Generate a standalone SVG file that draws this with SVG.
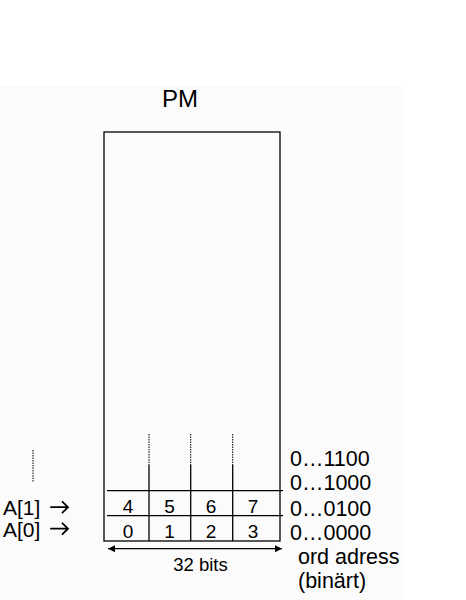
<svg xmlns="http://www.w3.org/2000/svg" width="466" height="600" viewBox="0 0 466 600">
<defs>
<style>
text{font-family:"Liberation Sans",Arial,sans-serif;fill:#000}
.ln{stroke:#000;stroke-width:1.3;fill:none}
.dot{stroke:#000;stroke-width:1;stroke-dasharray:1.5 1;fill:none}
.ptr{stroke:#000;stroke-width:1.8;fill:none;stroke-linecap:round;stroke-linejoin:miter}
.lbl{font-size:21px}
.addr{font-size:21.5px}
.cell{font-size:19px;text-anchor:middle}
</style>
<marker id="ah" viewBox="0 0 10 10" refX="10" refY="5" markerWidth="9" markerHeight="7" markerUnits="userSpaceOnUse" orient="auto-start-reverse">
<path d="M0,0 L10,5 L0,10 z" fill="#000"/>
</marker>
</defs>
<rect x="0" y="0" width="466" height="600" fill="#fff"/>
<rect x="0" y="86" width="404" height="514" fill="#fbfbfb"/>
<text x="180" y="106.5" font-size="24" text-anchor="middle">PM</text>
<g id="pm">
<rect class="ln" x="104" y="132" width="176" height="409"/>
<line class="ln" x1="107" y1="490.7" x2="283" y2="490.7"/>
<line class="ln" x1="107" y1="515.7" x2="283" y2="515.7"/>
<line class="ln" x1="149" y1="465" x2="149" y2="541"/>
<line class="ln" x1="190.7" y1="465" x2="190.7" y2="541"/>
<line class="ln" x1="232.7" y1="465" x2="232.7" y2="541"/>
<line class="dot" x1="149" y1="434" x2="149" y2="465"/>
<line class="dot" x1="190.7" y1="434" x2="190.7" y2="465"/>
<line class="dot" x1="232.7" y1="434" x2="232.7" y2="465"/>
</g>
<g id="cells">
<text class="cell" x="128" y="512.5">4</text>
<text class="cell" x="169.5" y="512.5">5</text>
<text class="cell" x="211" y="512.5">6</text>
<text class="cell" x="253" y="512.5">7</text>
<text class="cell" x="128" y="537.5">0</text>
<text class="cell" x="169.5" y="537.5">1</text>
<text class="cell" x="211" y="537.5">2</text>
<text class="cell" x="253" y="537.5">3</text>
</g>
<g id="connectors">
<line class="ln" x1="108" y1="548.7" x2="282" y2="548.7" marker-start="url(#ah)" marker-end="url(#ah)"/>
<line class="dot" x1="33" y1="450" x2="33" y2="482"/>
<path class="ptr" d="M51,507.2 H68 M62.5,501.8 L68,507.2 L62.5,512.6"/>
<path class="ptr" d="M51,528.7 H68 M62.5,523.3 L68,528.7 L62.5,534.1"/>
</g>
<text x="200.5" y="571" font-size="18.5" text-anchor="middle">32 bits</text>
<g id="left-labels">
<text class="lbl" x="3" y="515">A[1]</text>
<text class="lbl" x="3" y="536.5">A[0]</text>
</g>
<g id="addr-labels">
<text class="addr" x="290" y="466">0…1100</text>
<text class="addr" x="290" y="490">0…1000</text>
<text class="addr" x="290" y="515.5">0…0100</text>
<text class="addr" x="290" y="540">0…0000</text>
<text class="addr" x="298" y="564">ord adress</text>
<text class="addr" x="298" y="588">(binärt)</text>
</g>
</svg>
